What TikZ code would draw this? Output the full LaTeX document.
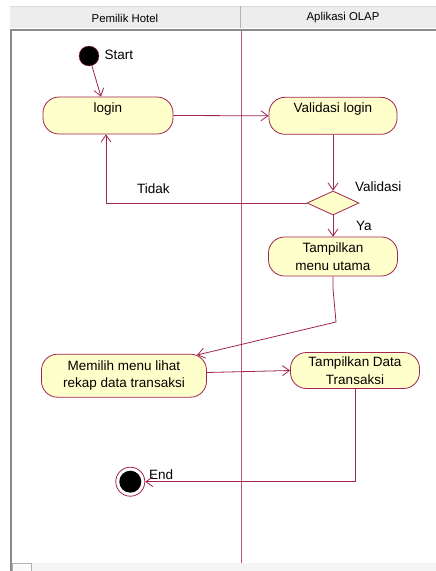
\documentclass[tikz,border=0pt]{standalone}
\usepackage{fontspec}
\setmainfont{Liberation Sans}
\usetikzlibrary{shapes.geometric,arrows.meta,calc}
\definecolor{umlline}{HTML}{A0254F}
\definecolor{umlfill}{HTML}{FFFFCC}
\definecolor{lanecol}{HTML}{B8577F}
\definecolor{hdrfill}{HTML}{EDEDED}
\definecolor{framegray}{HTML}{8A8A8A}
\begin{document}
\begin{tikzpicture}[x=1pt,y=-1pt,
  every node/.style={font=\fontsize{13.5}{17.4}\selectfont},
  act/.style={draw=umlline, fill=umlfill, rounded corners=16pt, line width=0.8pt, inner sep=0pt, align=center},
  oneline/.style={text height=15pt, text depth=22pt},
  flow/.style={draw=umlline, line width=0.8pt, -{Straight Barb[length=7pt,width=10pt]}},
  lbl/.style={inner sep=0pt},
  hdr/.style={inner sep=0pt, font=\fontsize{11.4}{13}\selectfont},
]
\useasboundingbox (0,0) rectangle (436,571);
\fill[white] (0,0) rectangle (436,571);
% header and frame
\fill[hdrfill] (10,6) rectangle (436,28);
\draw[gray!30] (10,6) -- (436,6);
\draw[framegray, line width=2pt] (10,29.5) -- (436,29.5);
\draw[framegray, line width=2pt] (11,29) -- (11,571);
\draw[gray!60, line width=1pt] (240.5,6) -- (240.5,28);
\node[hdr] (h1) at (125,18) {Pemilik Hotel};
\node[hdr] (h2) at (343,18) {Aplikasi OLAP};
% bottom scroll band
\fill[gray!8] (12,563) rectangle (436,571);
\draw[gray!60, fill=gray!4] (12,563) rectangle (31,571);
% lane divider
\draw[lanecol, line width=0.9pt] (241,31) -- (241,563);

% nodes
\node[circle, draw=umlline, fill=black, minimum size=20pt, inner sep=0pt] (start) at (89,56) {};
\node[lbl, anchor=west] (startlbl) at (104.5,55) {Start};

\node[act, oneline, minimum width=130pt, minimum height=37pt] (login) at (108,115.5) {login};
\node[act, oneline, minimum width=128pt, minimum height=37pt] (vlogin) at (333,115.8) {Validasi login};
\node[diamond, draw=umlline, fill=umlfill, line width=0.8pt, inner sep=0pt, minimum width=52pt, minimum height=24pt] (dec) at (333,203) {};
\node[lbl, anchor=west] (vlbl) at (355,187) {Validasi};
\node[lbl, anchor=west] (ylbl) at (356,226) {Ya};
\node[lbl, anchor=west] (tlbl) at (137,189) {Tidak};
\node[act, minimum width=129pt, minimum height=39pt] (menu) at (333,256.5) {Tampilkan\\menu utama};
\node[act, minimum width=165pt, minimum height=43pt] (memilih) at (124,375.7) {Memilih menu lihat\\rekap data transaksi};
\node[act, minimum width=129pt, minimum height=36pt] (tdata) at (355,370.5) {Tampilkan Data\\Transaksi};
\node[circle, draw=umlline, fill=white, line width=0.8pt, minimum size=29pt, inner sep=0pt] (end) at (130.3,481.7) {};
\node[circle, fill=black, minimum size=22pt, inner sep=0pt] (endin) at (end) {};
\node[lbl, anchor=west] (elbl) at (149,475) {End};

\coordinate (bend) at (336,322);
\coordinate (memtop) at (197,355);

% connectors
\draw[flow] (start) -- ([xshift=-7pt]login.north);
\draw[flow] (login.east) -- (vlogin.west);
\draw[flow] (vlogin.south) -- (dec.north);
\draw[flow] (dec.west) -| ([xshift=-2pt]login.south);
\draw[flow] (dec.south) -- (menu.north);
\draw[flow] (menu.south) -- ++(0,12) -- (bend) -- (memtop);
\draw[flow] (memilih.east |- tdata.west) ++(0,2) -- (tdata.west);
\draw[flow] (tdata.south) |- (end.east);
\end{tikzpicture}
\end{document}
